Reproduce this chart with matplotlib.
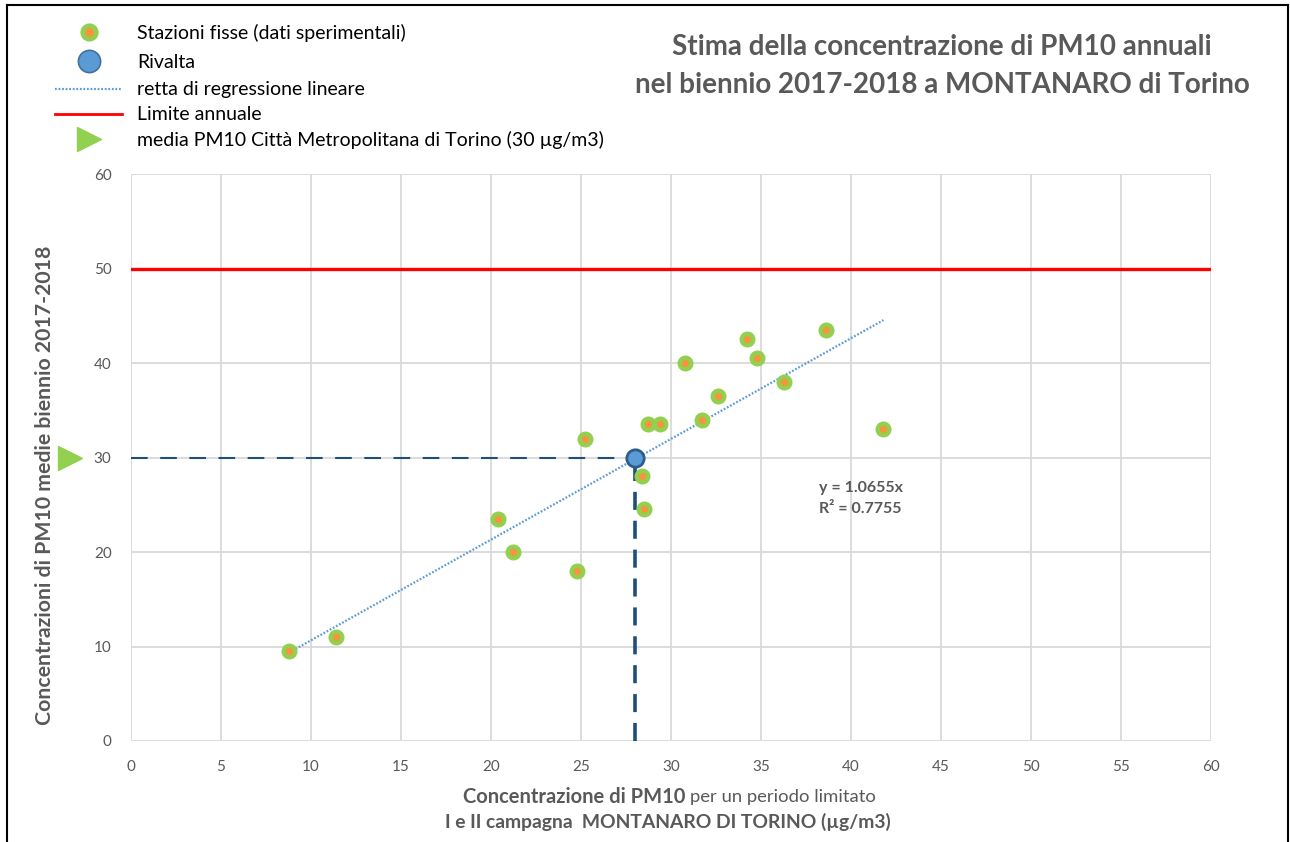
import matplotlib
matplotlib.use("Agg")
import matplotlib.pyplot as plt
from matplotlib.lines import Line2D
import numpy as np

# ---- data ----
x_stazioni = [8.8, 11.4, 20.4, 21.2, 24.8, 25.2, 28.4, 28.5, 28.7, 29.4,
              30.8, 31.7, 32.6, 34.2, 34.8, 36.3, 38.6, 41.8]
y_stazioni = [9.5, 11.0, 23.5, 20.0, 18.0, 32.0, 28.0, 24.5, 33.5, 33.5,
              40.0, 34.0, 36.5, 42.5, 40.5, 38.0, 43.5, 33.0]
x_rivalta = 28.0
y_rivalta = 30.0
slope = 1.0655
r2 = 0.7755
limite_annuale = 50
media_cm_torino = 30
x_ticks = [0, 5, 10, 15, 20, 25, 30, 35, 40, 45, 50, 55, 60]
y_ticks = [0, 10, 20, 30, 40, 50, 60]
legend_labels = ['Stazioni fisse (dati sperimentali)', 'Rivalta', 'retta di regressione lineare',
                 'Limite annuale', 'media PM10 Città Metropolitana di Torino (30 µg/m3)']

plt.rcParams['font.family'] = ['Lato', 'DejaVu Sans']
GRAY = '#595959'
GREEN = '#92D050'
ORANGE = '#F7953F'
BLUE = '#5B9BD5'
DARKBLUE = '#1F4E79'

W, H = 1290, 842
fig = plt.figure(figsize=(12.9, 8.42), dpi=100)
ax = fig.add_axes([131/W, 1-741/H, (1211-131)/W, (741-174)/H])
ax.set_xlim(0, 60)
ax.set_ylim(0, 60)
ax.set_xticks(x_ticks)
ax.set_yticks(y_ticks)
ax.grid(True, color='#D9D9D9', linewidth=1.3, zorder=0)
for s in ax.spines.values():
    s.set_visible(False)
ax.tick_params(length=0, labelsize=11, labelcolor=GRAY, pad=14)

# limite annuale
ax.axhline(limite_annuale, color='#FF0000', linewidth=2.4, zorder=3)

# dashed guides
ax.plot([0, x_rivalta], [y_rivalta, y_rivalta], color=DARKBLUE, linewidth=1.5,
        dashes=(8, 6), zorder=3)
ax.plot([x_rivalta, x_rivalta], [0, y_rivalta], color=DARKBLUE, linewidth=2.6,
        dashes=(5, 3), zorder=3)

# regression line
xr = np.array([min(x_stazioni), max(x_stazioni)])
ax.plot(xr, slope * xr, color=BLUE, linewidth=1.6, linestyle=(0, (0.8, 0.8)), zorder=4)

# stations
ax.plot(x_stazioni, y_stazioni, linestyle='none', marker='o', markersize=8.4,
        markerfacecolor=ORANGE, markeredgecolor=GREEN, markeredgewidth=3.1, zorder=5)

# Rivalta
ax.plot([x_rivalta], [y_rivalta], linestyle='none', marker='o', markersize=12.5,
        markerfacecolor=BLUE, markeredgecolor='#2F5D8A', markeredgewidth=2.0, zorder=6)

# green triangle outside the axis
ax.plot([-3.4], [media_cm_torino], linestyle='none', marker='>', markersize=17,
        color=GREEN, clip_on=False, zorder=6)

# equation
ax.text(38.2, 26.8, f'y = {slope}x', color=GRAY, fontsize=11.5, fontweight='bold',
        va='center', ha='left')
ax.text(38.2, 24.5, f'R² = {r2}', color=GRAY, fontsize=11.5, fontweight='bold',
        va='center', ha='left')

# axis labels
fig.text(45/W, 1-485/H, 'Concentrazioni di PM10 medie biennio 2017-2018',
         rotation=90, ha='center', va='center', fontsize=15.3, fontweight='bold', color=GRAY)
fig.text(690/W, 1-797/H, 'Concentrazione di PM10 ', ha='right', va='center',
         fontsize=14.5, fontweight='bold', color=GRAY)
fig.text(690/W, 1-797/H, 'per un periodo limitato', ha='left', va='center',
         fontsize=13.3, color=GRAY)
fig.text(668/W, 1-822/H, 'I e II campagna  MONTANARO DI TORINO (µg/m3)',
         ha='center', va='center', fontsize=13.9, fontweight='bold', color=GRAY)

# title
fig.text(942/W, 1-47/H, 'Stima della concentrazione di PM10 annuali',
         ha='center', va='center', fontsize=20, fontweight='bold', color=GRAY)
fig.text(942/W, 1-85/H, 'nel biennio 2017-2018 a MONTANARO di Torino',
         ha='center', va='center', fontsize=20, fontweight='bold', color=GRAY)

# legend (one row each, at the reference row positions)
FS = 14
handles = [
    Line2D([], [], linestyle='none', marker='o', markersize=9.8, markerfacecolor=ORANGE,
           markeredgecolor=GREEN, markeredgewidth=3.3),
    Line2D([], [], linestyle='none', marker='o', markersize=16, markerfacecolor=BLUE,
           markeredgecolor='#41719C', markeredgewidth=1.2),
    Line2D([], [], color=BLUE, linewidth=1.6, linestyle=(0, (0.8, 0.8))),
    Line2D([], [], color='#FF0000', linewidth=2),
    Line2D([], [], linestyle='none', marker='>', markersize=17, color=GREEN),
]
row_y = [33, 62, 90, 115, 140]
hl_px, pad_px = 67, 15
for h, lab, yy in zip(handles, legend_labels, row_y):
    fig.legend([h], [lab], loc='center left', bbox_to_anchor=(55/W, 1-yy/H),
               frameon=False, fontsize=FS, handlelength=hl_px / (FS * 100 / 72),
               handletextpad=pad_px / (FS * 100 / 72),
               borderaxespad=0, borderpad=0, labelcolor='black')

# figure frame (left, top, right)
for xs, ys in [([7/W, 7/W], [0, 1-5/H]), ([7/W, 1288/W], [1-5/H, 1-5/H]),
               ([1288/W, 1288/W], [0, 1-5/H])]:
    fig.add_artist(Line2D(xs, ys, transform=fig.transFigure, color='black', linewidth=1.5))

fig.savefig('out.png', dpi=100)
